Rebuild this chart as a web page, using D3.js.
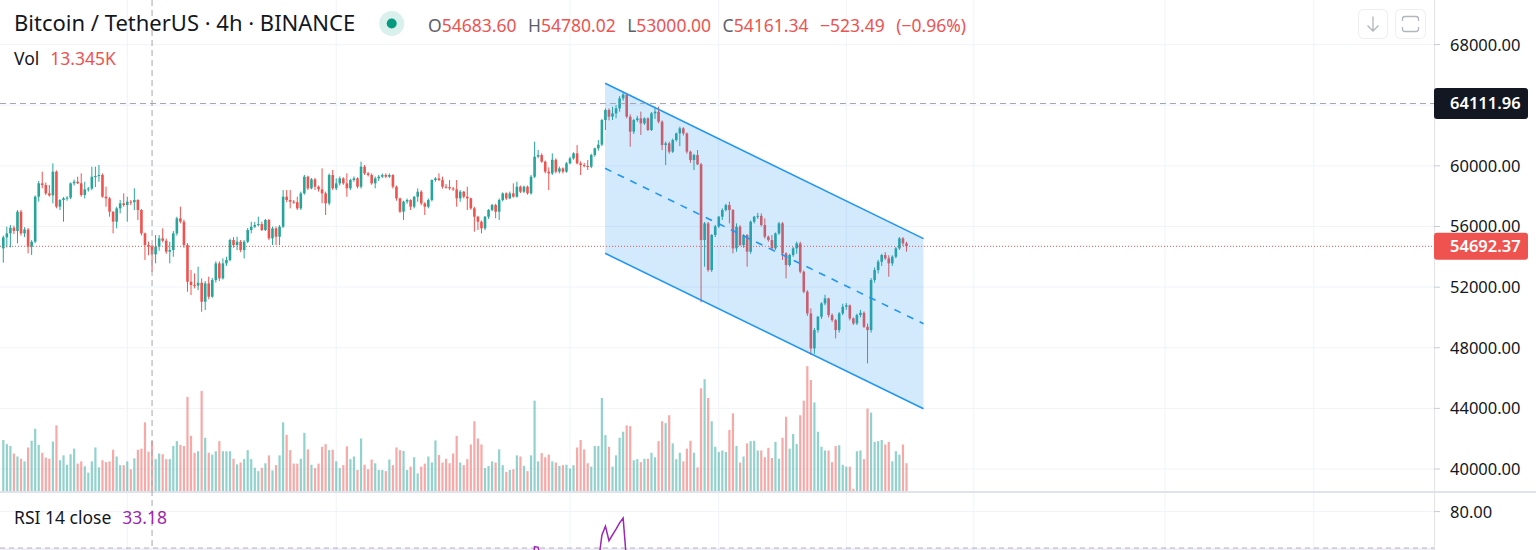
<!DOCTYPE html>
<html><head><meta charset="utf-8">
<script src="https://cdn.jsdelivr.net/npm/d3@7"></script>
<style>
html,body{margin:0;padding:0;background:#fff;overflow:hidden}
svg{display:block}
text{font-family:"Noto Sans",sans-serif}
</style></head><body>
<svg id="c" width="1536" height="550"></svg>
<script>
// ---------------- DATA (BTCUSDT 4h) ----------------
const opens = [
54556,55282,55546,55920,55700,56976,55546,55800,54666,54996,
57966,58846,58736,58186,58050,59616,57306,57746,57856,57900,
58846,58956,58850,58076,58450,58500,59286,59330,59400,57966,
57856,56976,56316,57196,57526,57416,57636,57600,57746,57086,
55546,54776,54683.60,54161.34,54666,55216,55060,54336,54446,55546,
56536,56316,54776,52356,52136,52100,52290,51036,52246,51366,
52466,53566,52576,53566,53786,55106,54776,54996,54446,54996,
55766,55986,56096,56160,55766,56426,55216,55876,55326,55986,
57966,57746,57636,57600,57196,58186,59286,58516,59110,58626,
58450,58185,57525,59395,58515,58845,59175,58845,58515,59065,
59175,58625,59945,59505,59395,58845,59175,59285,59395,59285,
59395,58625,57855,56975,57635,57745,57305,57965,58295,57525,
57305,57745,59065,59175,59065,58625,58600,58515,58450,57855,
58295,57965,57855,57195,56645,56315,55875,56645,57085,57415,
56975,57745,58185,57855,58185,57965,58625,58295,58625,58185,
59285,60605,60715,60275,59615,59500,60400,59615,59835,59615,
60165,60495,60825,60165,60055,59990,59945,60715,61155,61400,
63024,63684,63244,63464,63794,64454,64700,63244,62254,63024,
63134,62804,63134,62364,63464,63574,62914,61374,61484,60934,
61704,62144,62474,62140,60934,60384,60714,60100,55106,56206,
53126,55436,56000,56646,57086,57416,57086,54556,55986,54776,
55436,54336,56316,56646,56700,56096,55326,55106,54556,55546,
56206,54226,53456,54116,54556,54886,53016,51696,50266,47956,
49166,50046,50926,51256,50156,49826,49166,50266,50706,50800,
49936,49606,50156,50306,49386,49166,52466,53126,53676,54116,
53896,53566,54006,54556,55216,54886];
const highs = [
55400,55986,56096,56050,57086,57100,55950,55900,55100,58050,
59000,59616,58900,58736,60166,59700,57800,57950,58000,58900,
59100,59286,59506,58956,58600,59946,59946,60056,59500,58626,
57950,57000,57300,57746,58186,57966,57750,58516,57800,57150,
55600,55000,54780.02,55436,55436,55876,55200,54996,55700,56646,
57306,56450,54900,53126,52906,53346,52576,52400,52686,52600,
53700,53700,53900,54000,55200,55300,55326,55106,55100,55900,
56316,56300,56646,56316,56500,56500,56000,56000,56100,58406,
58406,58406,57750,57966,58300,59396,59350,59200,59200,58700,
59835,58300,59500,59725,59175,59300,59250,59505,59150,59300,
59250,60275,60055,59600,59500,59300,59400,59500,59505,59500,
59450,58700,57900,57700,57850,57800,58000,58515,58400,57600,
57850,59100,59250,59505,59285,58800,59065,58600,59065,58400,
58350,58625,57900,57300,56700,56400,56700,57150,57500,57500,
57850,58250,58250,58300,58845,58955,58700,58700,58700,59400,
61595,61045,60825,60350,59900,60825,60500,59950,59900,60250,
60600,60900,61375,60300,60200,60385,60800,61200,61705,63100,
63794,63794,63900,64000,64600,64854,64794,63400,63100,63300,
63574,63200,63200,63550,63900,63904,63000,61600,61594,61800,
62200,62584,62550,62200,61000,60800,61044,60200,56300,56300,
55500,56100,56700,57200,57500,57636,57150,56206,56100,55500,
55500,56400,56700,56900,56866,56536,55400,55436,55600,56300,
56300,54300,54200,54650,55000,55000,53100,51800,50600,49300,
50100,51000,51500,51300,50266,49900,50350,50900,50950,50850,
50000,50250,50500,50400,49600,52600,53300,53800,54200,54300,
54100,54100,54650,55300,55300,55000];
const lows = [
53610,54622,54622,55500,54886,55400,55300,54226,54116,54900,
57636,58516,58076,57966,57526,57200,57086,56316,57700,57800,
58700,58800,57966,57856,58300,58400,58600,58950,57900,57306,
56646,55546,55876,56866,57300,56316,57400,57086,56426,55400,
53786,54100,53000.00,53566,54400,54950,54200,53566,54006,55400,
56200,54600,51696,51476,51916,51800,50376,50486,51200,51300,
52300,52400,52500,53400,53700,54600,54446,54300,53896,54900,
55546,55900,56000,55700,55700,55100,54776,54776,54776,55900,
57600,57196,57500,57086,57086,58100,58400,58450,58406,58300,
57525,56755,57400,58400,58400,58700,58750,57965,58400,58950,
58515,58500,59400,59300,58750,58515,59000,59200,59200,59200,
58500,57700,56900,56425,57500,57085,57200,57635,57400,56755,
57200,57650,58950,59000,58500,58500,58400,58350,57305,57635,
57850,57085,57100,55655,55765,55545,55765,56500,57000,56535,
56425,57650,57750,57800,57900,57900,58200,58200,58100,58100,
59200,60500,60200,59500,58405,59400,59505,59500,59500,59550,
60100,60400,60100,59395,59900,59725,59850,60600,61000,61300,
62364,63000,63024,63134,63574,64300,63134,61264,62100,62900,
62034,62700,62300,62300,63100,62800,61044,60054,60800,60850,
61600,61300,62000,60800,60200,59724,60054,51000,53346,53016,
53000,55300,55900,56426,57000,56206,54226,54336,54700,54600,
53346,54200,56200,56500,56000,55200,55000,54450,54450,55450,
53786,52576,53350,54000,54200,52906,51600,50100,47516,47600,
49000,49900,50800,50000,49700,48616,49000,50150,50500,49800,
49500,49500,50000,49300,46966,49000,52300,52900,53400,53800,
52686,53400,53900,54450,54700,54336];
const closes = [
55282,55546,55920,55700,56976,55546,55800,54666,54996,57966,
58846,58736,58186,58050,59616,57306,57746,57856,57900,58846,
58956,58850,58076,58450,58500,59286,59330,59400,57966,57856,
56976,56316,57196,57526,57416,57636,57600,57746,57086,55546,
54776,54684,54161.34,54666,55216,55060,54336,54446,55546,56536,
56316,54776,52356,52136,52100,52290,51036,52246,51366,52466,
53566,52576,53566,53786,55106,54776,54996,54446,54996,55766,
55986,56096,56160,55766,56426,55216,55876,55326,55986,57966,
57746,57636,57600,57196,58186,59286,58516,59110,58626,58450,
58185,57525,59395,58515,58845,59175,58845,58515,59065,59175,
58625,59945,59505,59395,58845,59175,59285,59395,59285,59395,
58625,57855,56975,57635,57745,57305,57965,58295,57525,57305,
57745,59065,59175,59065,58625,58600,58515,58450,57855,58295,
57965,57855,57195,56645,56315,55875,56645,57085,57415,56975,
57745,58185,57855,58185,57965,58625,58295,58625,58185,59285,
60605,60715,60275,59615,59500,60400,59615,59835,59615,60165,
60495,60825,60165,60055,59990,59945,60715,61155,61400,63024,
63684,63244,63464,63794,64454,64700,63244,62254,63024,63134,
62804,63134,62364,63464,63574,62914,61374,61484,60934,61704,
62144,62474,62140,60934,60384,60714,60100,55106,56206,53126,
55436,56000,56646,57086,57416,57086,54556,55986,54776,55436,
54336,56316,56646,56700,56096,55326,55106,54556,55546,56206,
54226,53456,54116,54556,54886,53016,51696,50266,47956,49166,
50046,50926,51256,50156,49826,49166,50266,50706,50800,49936,
49606,50156,50306,49386,49166,52466,53126,53676,54116,53896,
53566,54006,54556,55216,54886,54692.37];
// volume in thousands of BTC
const volumes = [
13.6,12.5,12.0,10.0,9.2,8.6,7.9,11.6,13.4,16.6,
12.3,10.2,8.9,8.6,13.2,17.5,8.2,9.5,7.0,9.8,
11.3,7.3,7.9,6.6,4.9,7.9,11.6,6.3,8.2,7.7,
7.9,11.0,9.2,6.9,6.9,7.9,5.8,8.7,11.0,11.3,
18.3,10.5,13.345,8.5,10.0,9.8,8.5,8.5,12.0,13.3,
12.3,12.0,25.1,14.7,10.2,10.6,26.7,14.2,10.2,9.7,
10.6,13.3,10.6,10.6,10.6,8.6,7.1,7.6,8.5,10.9,
8.5,6.2,5.3,6.2,7.4,9.5,5.5,6.9,9.5,18.3,
15.0,10.9,7.3,7.3,8.6,15.5,11.1,7.0,6.1,7.3,
11.8,12.5,10.9,11.0,7.9,6.1,6.9,11.9,8.5,9.2,
5.6,14.0,7.0,5.8,8.4,7.4,5.6,5.6,5.3,8.4,
6.9,11.6,10.9,10.7,5.6,6.5,9.0,4.7,6.5,7.3,
9.2,7.6,13.5,9.6,7.6,8.6,7.4,10.0,14.7,7.6,
6.9,8.5,12.4,18.6,14.0,12.4,6.1,6.7,7.9,7.6,
11.1,6.9,5.1,5.6,5.8,9.5,9.2,6.7,5.3,9.5,
24.1,7.9,10.1,9.0,9.7,7.9,7.6,6.7,6.9,7.0,
6.0,6.9,11.6,13.6,11.1,7.4,6.5,12.0,12.0,24.8,
14.9,11.8,6.5,9.5,14.2,15.8,17.5,17.3,8.2,8.5,
7.7,8.6,8.6,10.2,9.0,13.3,18.6,18.1,20.2,12.7,
8.5,10.2,7.9,11.3,13.4,10.2,6.3,27.4,29.8,24.8,
18.6,11.8,10.4,10.8,10.4,16.3,20.7,12.0,7.6,9.2,
12.7,13.3,13.4,10.8,10.8,9.0,11.5,8.8,13.1,8.6,
14.2,19.8,11.3,15.2,12.5,20.2,24.1,33.3,29.6,23.6,
15.8,11.8,10.8,10.8,7.7,12.0,12.2,7.0,6.5,6.5,
0.6,10.6,10.8,8.5,22.0,20.9,13.1,13.3,13.6,12.4,
13.1,7.9,10.6,9.7,12.4,7.4];
// RSI(14) values for the stretch of bars where it is visible (index 144 onward)
const rsiStart = 144;
const rsiValues = [56,60,58,60,57,62,70.4,70.2,66,61,60,64,60,62,60,64,66,68,63,62,61,61,65,67,66,
73.5,76.0,72.0,73.6,75.2,76.9,78.2,66,60,65,65,62];
// axis ticks
const priceTicks = [40000,44000,48000,52000,56000,60000,64000,68000];
const rsiTicks = [80];
// time grid (bar index of the date gridlines)
const gridIdx = [35,94,160,202,238,274,328,370];
// parallel channel drawing: bar index, upper price, lower price
const channelIdx = [169.9, 259.8];
const channelUpper = [65447, 55200];
const channelLower = [54230, 43970];
// crosshair / last price
const hoverIdx = 42;
const hoverPrice = 64111.96;
const lastPrice = 54692.37;
const legend = {o:"54683.60", h:"54780.02", l:"53000.00", c:"54161.34", chg:"−523.49", pct:"(−0.96%)", vol:"13.345K", rsi:"33.18"};

// ---------------- LAYOUT ----------------
const W=1536, H=550, paneR=1434, mainBottom=491;
const UP="#26a69a", DN="#ef5350";
const svg=d3.select("#c");
const x=d3.scaleLinear().domain([0,255]).range([3.3,906.5]);
const y=d3.scaleLinear().domain([40000,68000]).range([469,44.6]);
const yVol=d3.scaleLinear().domain([0,40]).range([mainBottom,mainBottom-150]);
const yRsi=d3.scaleLinear().domain([70,80]).range([548,511.6]);

const defs=svg.append("defs");
defs.append("clipPath").attr("id","cm").append("rect").attr("x",0).attr("y",0).attr("width",paneR).attr("height",mainBottom);
defs.append("clipPath").attr("id","cr").append("rect").attr("x",0).attr("y",493).attr("width",paneR).attr("height",60);

// grid
const grid=svg.append("g").attr("stroke","#f0f3fa").attr("stroke-width",1);
priceTicks.forEach(v=>grid.append("line").attr("x1",0).attr("x2",paneR).attr("y1",y(v)).attr("y2",y(v)));
rsiTicks.forEach(v=>grid.append("line").attr("x1",0).attr("x2",paneR).attr("y1",yRsi(v)).attr("y2",yRsi(v)));
gridIdx.forEach(i=>grid.append("line").attr("x1",x(i)).attr("x2",x(i)).attr("y1",0).attr("y2",H));

// RSI band & level
const rsiG=svg.append("g").attr("clip-path","url(#cr)");
rsiG.append("rect").attr("x",0).attr("width",paneR).attr("y",yRsi(70)).attr("height",200).attr("fill","rgba(126,87,194,0.1)");
rsiG.append("line").attr("x1",0).attr("x2",paneR).attr("y1",yRsi(70)).attr("y2",yRsi(70))
  .attr("stroke","rgba(120,123,134,0.55)").attr("stroke-dasharray","5 4");
const rsiLine=d3.line().x((d,k)=>x(rsiStart+k)).y(d=>yRsi(d));
rsiG.append("path").attr("d",rsiLine(rsiValues)).attr("fill","none").attr("stroke","#9c27b0").attr("stroke-width",1.5);

// main pane
const main=svg.append("g").attr("clip-path","url(#cm)");
const idx=d3.range(closes.length);
// volume
main.append("g").selectAll("rect").data(idx).join("rect")
  .attr("x",i=>x(i)-1.1).attr("width",2.2)
  .attr("y",i=>yVol(volumes[i])).attr("height",i=>mainBottom-yVol(volumes[i]))
  .attr("fill",i=>closes[i]>=opens[i]?"rgba(38,166,154,0.5)":"rgba(239,83,80,0.5)");
// candles
const cg=main.append("g");
cg.selectAll("line").data(idx).join("line")
  .attr("x1",i=>x(i)).attr("x2",i=>x(i))
  .attr("y1",i=>y(highs[i])).attr("y2",i=>y(lows[i]))
  .attr("stroke",i=>closes[i]>=opens[i]?UP:DN).attr("stroke-width",1);
cg.selectAll("rect").data(idx).join("rect")
  .attr("x",i=>x(i)-1.3).attr("width",2.6)
  .attr("y",i=>y(Math.max(opens[i],closes[i])))
  .attr("height",i=>Math.max(1,Math.abs(y(opens[i])-y(closes[i]))))
  .attr("fill",i=>closes[i]>=opens[i]?UP:DN);

// channel
const cx0=x(channelIdx[0]), cx1=x(channelIdx[1]);
main.append("polygon")
  .attr("points",[[cx0,y(channelUpper[0])],[cx1,y(channelUpper[1])],[cx1,y(channelLower[1])],[cx0,y(channelLower[0])]].map(p=>p.join(",")).join(" "))
  .attr("fill","rgba(33,150,243,0.2)");
main.append("line").attr("x1",cx0).attr("y1",y(channelUpper[0])).attr("x2",cx1).attr("y2",y(channelUpper[1]))
  .attr("stroke","#2196f3").attr("stroke-width",1.6);
main.append("line").attr("x1",cx0).attr("y1",y(channelLower[0])).attr("x2",cx1).attr("y2",y(channelLower[1]))
  .attr("stroke","#2196f3").attr("stroke-width",1.6);
main.append("line").attr("x1",cx0).attr("y1",y((channelUpper[0]+channelLower[0])/2)).attr("x2",cx1).attr("y2",y((channelUpper[1]+channelLower[1])/2))
  .attr("stroke","#2196f3").attr("stroke-width",1.6).attr("stroke-dasharray","7 7");

// last price line
main.append("line").attr("x1",0).attr("x2",paneR).attr("y1",y(lastPrice)).attr("y2",y(lastPrice))
  .attr("stroke",DN).attr("stroke-width",1).attr("stroke-dasharray","1 2");
// crosshair horizontal
main.append("line").attr("x1",0).attr("x2",paneR).attr("y1",y(hoverPrice)).attr("y2",y(hoverPrice))
  .attr("stroke","#a3a6af").attr("stroke-width",1).attr("stroke-dasharray","6 4");

// pane separator & axis border
svg.append("rect").attr("x",0).attr("y",mainBottom).attr("width",W).attr("height",2).attr("fill","#e0e3eb");
svg.append("line").attr("x1",paneR+0.5).attr("x2",paneR+0.5).attr("y1",0).attr("y2",H).attr("stroke","#e0e3eb");

// crosshair vertical
svg.append("line").attr("x1",x(hoverIdx)).attr("x2",x(hoverIdx)).attr("y1",0).attr("y2",H)
  .attr("stroke","#a3a6af").attr("stroke-width",1).attr("stroke-dasharray","6 4");

// price axis
const ax=svg.append("g");
const fmt=d3.format(".2f");
const axFont=16.5;
priceTicks.forEach(v=>{
  ax.append("line").attr("x1",paneR).attr("x2",paneR+6).attr("y1",y(v)).attr("y2",y(v)).attr("stroke","#c9cbd1");
  ax.append("text").attr("x",1450).attr("y",y(v)).attr("dy","0.36em").attr("font-size",axFont).attr("fill","#131722").text(fmt(v));
});
rsiTicks.forEach(v=>{
  ax.append("line").attr("x1",paneR).attr("x2",paneR+6).attr("y1",yRsi(v)).attr("y2",yRsi(v)).attr("stroke","#c9cbd1");
  ax.append("text").attr("x",1450).attr("y",yRsi(v)).attr("dy","0.36em").attr("font-size",axFont).attr("fill","#131722").text(fmt(v));
});
function priceLabel(v,bg,h){
  const yy=y(v);
  ax.append("rect").attr("x",paneR).attr("y",yy-h/2).attr("width",94).attr("height",h).attr("rx",3).attr("fill",bg);
  ax.append("text").attr("x",1450).attr("y",yy).attr("dy","0.36em").attr("font-size",axFont).attr("font-weight",600).attr("fill","#fff").text(fmt(v));
}
priceLabel(hoverPrice,"#131722",31);
priceLabel(lastPrice,DN,27);

// header legend
const hd=svg.append("g");
hd.append("text").attr("x",14).attr("y",31).attr("font-size",22).attr("fill","#131722").text("Bitcoin / TetherUS · 4h · BINANCE");
hd.append("circle").attr("cx",391.7).attr("cy",23.5).attr("r",12.5).attr("fill","rgba(8,153,129,0.15)");
hd.append("circle").attr("cx",391.7).attr("cy",23.5).attr("r",5).attr("fill","#089981");
const groups=[["O",legend.o],["H",legend.h],["L",legend.l],["C",legend.c],["",legend.chg],["",legend.pct]];
let gx=428;
groups.forEach(([k,v])=>{
  const t=hd.append("text").attr("x",gx).attr("y",31.5).attr("font-size",17.5);
  if(k) t.append("tspan").attr("fill","#5d606b").text(k);
  t.append("tspan").attr("fill",DN).text(v);
  gx+=t.node().getComputedTextLength()+11.5;
});
const vt=hd.append("text").attr("x",14).attr("y",65).attr("font-size",17.5);
vt.append("tspan").attr("fill","#131722").text("Vol");
vt.append("tspan").attr("dx",11).attr("fill",DN).text(legend.vol);
const rt=hd.append("text").attr("x",14).attr("y",524).attr("font-size",17.5);
rt.append("tspan").attr("fill","#131722").text("RSI 14 close");
rt.append("tspan").attr("dx",11).attr("fill","#9c27b0").text(legend.rsi);

// top-right buttons
const bt=svg.append("g");
bt.append("rect").attr("x",1358.5).attr("y",9.5).attr("width",29).attr("height",29).attr("rx",5).attr("fill","#fff").attr("stroke","#eceef2");
bt.append("rect").attr("x",1395.5).attr("y",9.5).attr("width",30).attr("height",29).attr("rx",5).attr("fill","#fff").attr("stroke","#eceef2");
bt.append("path").attr("d","M1373 16.5 V31 M1367.5 25.5 L1373 31 L1378.5 25.5").attr("fill","none").attr("stroke","#b2b5be").attr("stroke-width",1.3);
bt.append("path").attr("d","M1402.5 21 V19 Q1402.5 16.5 1405 16.5 H1416 Q1418.5 16.5 1418.5 19 V21 M1402.5 27 V29 Q1402.5 31.5 1405 31.5 H1416 Q1418.5 31.5 1418.5 29 V27")
  .attr("fill","none").attr("stroke","#b2b5be").attr("stroke-width",1.3);
</script>
</body></html>
